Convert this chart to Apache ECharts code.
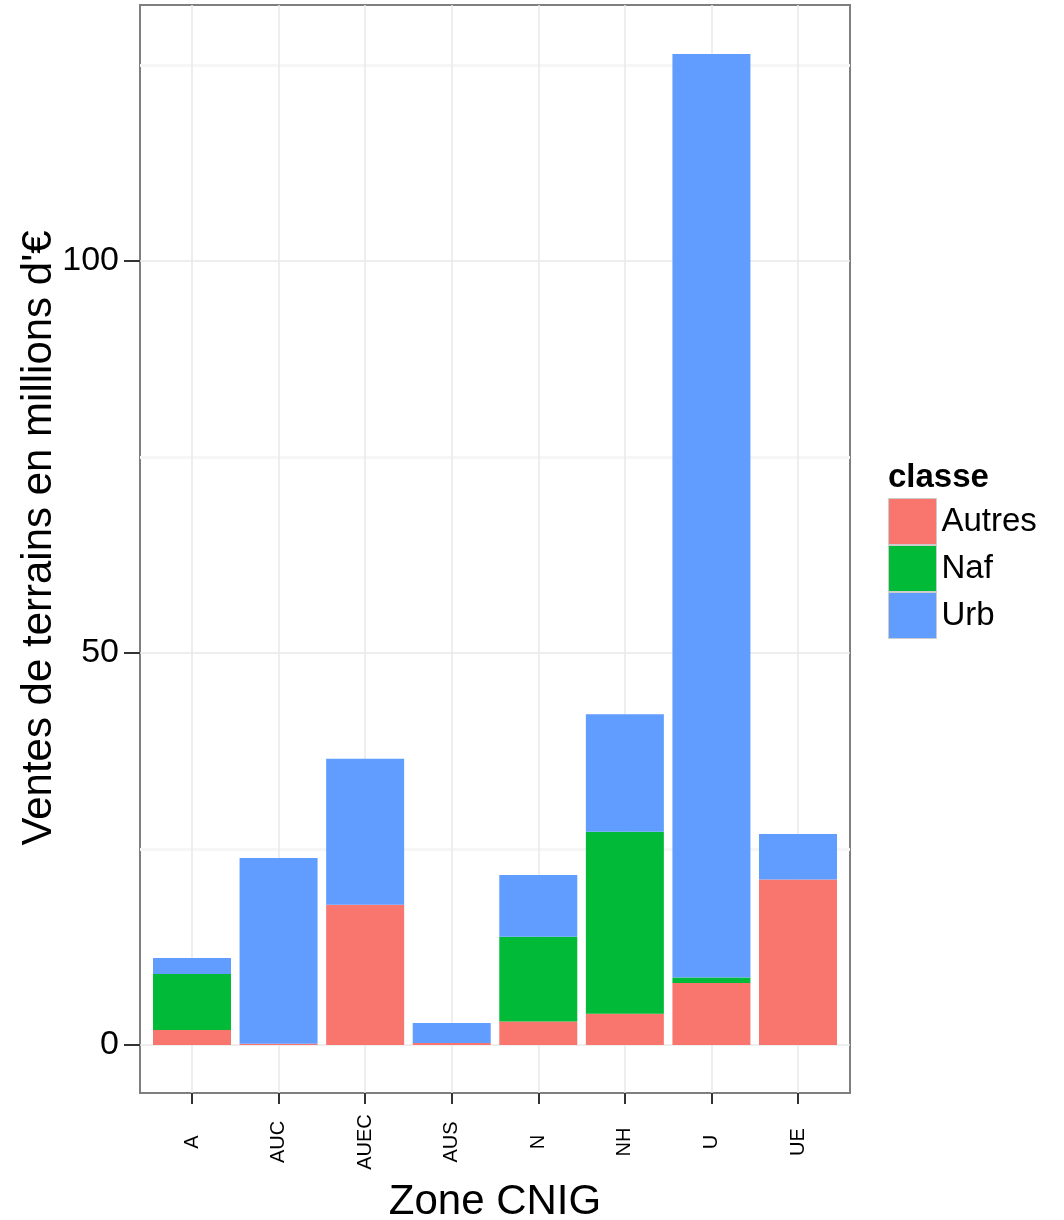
<!DOCTYPE html>
<html>
<head>
<meta charset="utf-8">
<script src="https://cdn.jsdelivr.net/npm/echarts@6/dist/echarts.min.js"></script>
<style type="text/css">
  body{margin:0;background:#fff;}
  #ventes_chart_div{width:1064px;height:1220px;}
</style>
</head>
<body>
<div id="ventes_chart_div"></div>
<script>
// zones CNIG et ventes par classe (millions d'€)
var zones = ['A', 'AUC', 'AUEC', 'AUS', 'N', 'NH', 'U', 'UE'];
var autres = [1.9, 0.15, 17.9, 0.25, 3.0, 4.0, 7.9, 21.1];
var naf = [7.15, 0, 0, 0, 10.8, 23.2, 0.7, 0];
var urb = [2.05, 23.7, 18.6, 2.55, 7.9, 15.0, 117.8, 5.8];
var y_ticks = [0, 50, 100];
var y_minor = [25, 75, 125];
var y_min = -6.12, y_max = 132.65;

var font = "'Liberation Sans', Arial, sans-serif";

function bar_serie(name, color, values){
	return {
		name: name,
		type: 'bar',
		stack: 'total',
		xAxisIndex: 1,
		yAxisIndex: 2,
		barWidth: 78,
		clip: false,
		itemStyle: {color: color},
		emphasis: {disabled: true},
		data: values
	};
}

var option = {
	animation: false,
	textStyle: {fontFamily: font},
	title: {
		text: 'classe',
		left: 888,
		top: 461,
		padding: 0,
		textStyle: {fontSize: 33, fontWeight: 'bold', color: '#000', fontFamily: font}
	},
	legend: {
		orient: 'vertical',
		left: 888,
		top: 498,
		padding: 0,
		itemGap: 0,
		itemWidth: 48,
		itemHeight: 46,
		icon: 'rect',
		selectedMode: false,
		itemStyle: {borderColor: '#cccccc', borderWidth: 1},
		textStyle: {fontSize: 33, color: '#000', fontFamily: font},
		data: ['Autres', 'Naf', 'Urb']
	},
	grid: [
		//panneau avec bordure
		{left: 140, right: 214, top: 5, bottom: 127, show: true, backgroundColor: '#fff',
		 borderColor: '#7f7f7f', borderWidth: 2, outerBoundsMode: 'none'},
		//grille des barres, centres des categories
		{left: 192, right: 266, top: 5, bottom: 127, outerBoundsMode: 'none'}
	],
	xAxis: [
		{type: 'value', gridIndex: 0, show: false, min: 0, max: 1},
		{
			type: 'category',
			gridIndex: 1,
			boundaryGap: false,
			data: zones,
			axisLine: {show: false, onZero: false},
			axisTick: {show: true, length: 11, lineStyle: {color: '#333', width: 2}},
			axisLabel: {
				interval: 0, rotate: 90, margin: 49, align: 'center', verticalAlign: 'middle',
				fontSize: 20, color: '#000', fontFamily: font
			},
			splitLine: {show: true, lineStyle: {color: '#e8e8e8', width: 1.5}},
			name: 'Zone CNIG',
			nameLocation: 'middle',
			nameGap: 88,
			nameMoveOverlap: false,
			nameTextStyle: {fontSize: 42, color: '#000', fontFamily: font}
		}
	],
	yAxis: [
		{
			type: 'value',
			gridIndex: 0,
			min: y_min,
			max: y_max,
			axisLine: {show: false},
			axisTick: {show: true, length: 16, customValues: y_ticks, lineStyle: {color: '#333', width: 2}},
			axisLabel: {customValues: y_ticks, fontSize: 34, color: '#000', margin: 21, fontFamily: font},
			splitLine: {show: true, lineStyle: {color: '#e8e8e8', width: 1.5}},
			name: "Ventes de terrains en millions d'€",
			nameLocation: 'middle',
			nameGap: 80,
			nameMoveOverlap: false,
			nameTextStyle: {fontSize: 42, color: '#000', fontFamily: font, padding: [0, 0, 0, 22]}
		},
		{
			type: 'value',
			gridIndex: 0,
			min: y_min,
			max: y_max,
			axisLine: {show: false},
			axisTick: {show: false, customValues: y_minor},
			axisLabel: {show: false, customValues: y_minor},
			splitLine: {show: true, lineStyle: {color: '#f6f6f6', width: 3}}
		},
		{type: 'value', gridIndex: 1, min: y_min, max: y_max, show: false}
	],
	series: [
		bar_serie('Autres', '#F8766D', autres),
		bar_serie('Naf', '#00BA38', naf),
		bar_serie('Urb', '#619CFF', urb)
	]
};

var ventes_chart = echarts.init(document.getElementById('ventes_chart_div'));
ventes_chart.setOption(option);
</script>
</body>
</html>
